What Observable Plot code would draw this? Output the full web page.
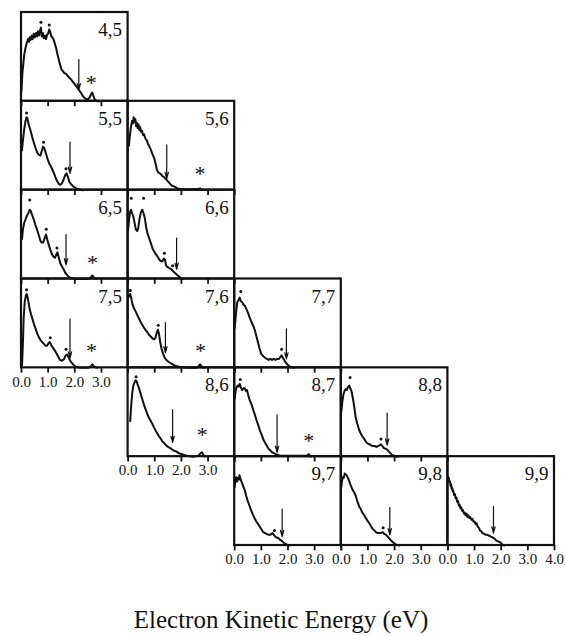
<!DOCTYPE html>
<html>
<head>
<meta charset="utf-8">
<script src="https://cdn.jsdelivr.net/npm/d3@7"></script>
<script src="https://cdn.jsdelivr.net/npm/@observablehq/plot@0.6"></script>
<style>
  html, body { margin: 0; padding: 0; background: #fff; }
  #wrap { position: relative; width: 566px; height: 636px; }
  #title { position: absolute; left: 0; top: 606px; width: 562px; text-align: center;
           font-family: "Liberation Serif", "DejaVu Serif", serif; font-size: 25px; line-height: 28px; color: #111; }
</style>
</head>
<body>
<div id="wrap"><div id="chart"></div><div id="title">Electron Kinetic Energy (eV)</div></div>
<script>
// Panels: label, grid column, grid row
const panelLabels = ["4,5","5,5","5,6","6,5","6,6","7,5","7,6","7,7","8,6","8,7","8,8","9,7","9,8","9,9"];
const panelCols   = [0, 0, 1, 0, 1, 0, 1, 2, 1, 2, 3, 2, 3, 4];
const panelRows   = [0, 1, 1, 2, 2, 3, 3, 3, 4, 4, 4, 5, 5, 5];
const labeledAxisPanels = ["7,5","8,6","9,7","9,8","9,9"];

// Spectra: [kinetic energy (eV), relative intensity]
const spec_4_5 = [[0.00,0.12],[0.03,0.30],[0.06,0.40],[0.10,0.52],[0.15,0.60],[0.20,0.66],[0.25,0.70],[0.28,0.67],[0.31,0.72],[0.34,0.69],[0.38,0.74],[0.42,0.70],[0.46,0.76],[0.50,0.72],[0.54,0.77],[0.58,0.73],[0.62,0.79],[0.66,0.74],[0.70,0.80],[0.73,0.83],[0.76,0.73],[0.80,0.77],[0.84,0.71],[0.88,0.74],[0.92,0.70],[0.96,0.75],[1.00,0.76],[1.04,0.81],[1.08,0.78],[1.12,0.73],[1.16,0.72],[1.20,0.70],[1.25,0.65],[1.30,0.60],[1.35,0.53],[1.40,0.47],[1.45,0.41],[1.50,0.36],[1.55,0.34],[1.60,0.32],[1.67,0.31],[1.75,0.28],[1.82,0.26],[1.90,0.23],[2.00,0.19],[2.10,0.15],[2.20,0.11],[2.30,0.06],[2.40,0.03],[2.48,0.02],[2.55,0.04],[2.61,0.08],[2.65,0.10],[2.70,0.06],[2.75,0.02],[2.85,0.0],[2.95,0.0]];
const spec_5_5 = [[0.02,0.45],[0.05,0.55],[0.10,0.68],[0.15,0.78],[0.19,0.82],[0.22,0.81],[0.27,0.74],[0.33,0.68],[0.40,0.60],[0.46,0.54],[0.52,0.48],[0.58,0.43],[0.64,0.40],[0.71,0.39],[0.76,0.44],[0.81,0.49],[0.86,0.47],[0.92,0.41],[0.98,0.35],[1.04,0.30],[1.10,0.27],[1.16,0.23],[1.22,0.19],[1.28,0.14],[1.34,0.10],[1.40,0.07],[1.46,0.06],[1.52,0.08],[1.58,0.12],[1.64,0.17],[1.69,0.19],[1.74,0.15],[1.80,0.09],[1.88,0.06],[1.95,0.04],[2.05,0.02],[2.15,0.01],[2.30,0.0]];
const spec_5_6 = [[0.03,0.50],[0.07,0.62],[0.11,0.72],[0.15,0.78],[0.18,0.75],[0.21,0.82],[0.24,0.77],[0.27,0.80],[0.30,0.72],[0.33,0.76],[0.36,0.70],[0.39,0.74],[0.42,0.68],[0.45,0.71],[0.48,0.66],[0.52,0.67],[0.56,0.62],[0.60,0.63],[0.65,0.58],[0.70,0.56],[0.75,0.52],[0.80,0.49],[0.86,0.45],[0.92,0.40],[0.98,0.36],[1.03,0.30],[1.08,0.23],[1.13,0.20],[1.18,0.19],[1.23,0.18],[1.28,0.16],[1.34,0.15],[1.40,0.13],[1.46,0.11],[1.52,0.09],[1.58,0.07],[1.65,0.05],[1.74,0.04],[1.85,0.02],[2.00,0.01],[2.20,0.01],[2.50,0.01],[2.62,0.01],[2.70,0.02],[2.78,0.0]];
const spec_6_5 = [[0.02,0.45],[0.05,0.55],[0.10,0.63],[0.15,0.67],[0.20,0.71],[0.27,0.75],[0.31,0.78],[0.34,0.77],[0.40,0.72],[0.46,0.67],[0.52,0.61],[0.58,0.56],[0.64,0.50],[0.71,0.43],[0.76,0.41],[0.81,0.41],[0.87,0.46],[0.92,0.50],[0.97,0.44],[1.02,0.39],[1.08,0.33],[1.14,0.28],[1.20,0.25],[1.26,0.24],[1.31,0.28],[1.35,0.30],[1.40,0.24],[1.45,0.18],[1.52,0.14],[1.58,0.11],[1.64,0.07],[1.70,0.05],[1.78,0.02],[1.88,0.01],[2.00,0.0],[2.30,0.0],[2.50,0.0],[2.58,0.01],[2.66,0.04],[2.73,0.01],[2.80,0.0]];
const spec_6_6 = [[0.00,0.55],[0.04,0.68],[0.08,0.76],[0.11,0.78],[0.15,0.74],[0.20,0.70],[0.25,0.62],[0.29,0.56],[0.34,0.54],[0.38,0.57],[0.43,0.68],[0.48,0.75],[0.53,0.78],[0.58,0.74],[0.63,0.68],[0.68,0.58],[0.73,0.51],[0.80,0.45],[0.86,0.40],[0.92,0.34],[0.98,0.31],[1.04,0.28],[1.11,0.25],[1.17,0.22],[1.23,0.20],[1.29,0.20],[1.34,0.23],[1.38,0.22],[1.43,0.15],[1.50,0.13],[1.56,0.12],[1.62,0.11],[1.68,0.09],[1.75,0.07],[1.82,0.05],[1.90,0.03],[1.98,0.01],[2.05,0.0]];
const spec_7_5 = [[0.02,0.03],[0.05,0.25],[0.08,0.55],[0.12,0.74],[0.17,0.82],[0.20,0.83],[0.24,0.78],[0.30,0.67],[0.36,0.60],[0.42,0.54],[0.48,0.48],[0.54,0.43],[0.60,0.38],[0.66,0.34],[0.72,0.31],[0.78,0.29],[0.84,0.27],[0.90,0.25],[0.96,0.25],[1.02,0.28],[1.06,0.29],[1.11,0.26],[1.17,0.23],[1.24,0.20],[1.30,0.17],[1.37,0.13],[1.44,0.09],[1.52,0.08],[1.60,0.10],[1.66,0.14],[1.71,0.15],[1.76,0.12],[1.83,0.08],[1.90,0.05],[1.97,0.03],[2.05,0.01],[2.20,0.0],[2.50,0.0],[2.58,0.01],[2.66,0.04],[2.73,0.01],[2.85,0.0]];
const spec_7_6 = [[0.00,0.78],[0.04,0.82],[0.08,0.83],[0.12,0.78],[0.16,0.72],[0.22,0.67],[0.29,0.63],[0.35,0.59],[0.42,0.55],[0.48,0.51],[0.54,0.48],[0.60,0.45],[0.67,0.42],[0.73,0.40],[0.79,0.37],[0.86,0.35],[0.92,0.33],[0.98,0.32],[1.03,0.34],[1.08,0.40],[1.12,0.43],[1.16,0.38],[1.20,0.30],[1.25,0.22],[1.31,0.16],[1.38,0.11],[1.46,0.08],[1.56,0.06],[1.67,0.04],[1.80,0.02],[1.95,0.01],[2.20,0.0],[2.55,0.0],[2.63,0.01],[2.70,0.04],[2.77,0.01],[2.85,0.0]];
const spec_7_7 = [[0.00,0.45],[0.03,0.55],[0.07,0.67],[0.10,0.74],[0.14,0.76],[0.19,0.79],[0.23,0.75],[0.28,0.74],[0.33,0.71],[0.38,0.70],[0.44,0.66],[0.51,0.61],[0.57,0.56],[0.64,0.51],[0.70,0.47],[0.76,0.42],[0.82,0.35],[0.87,0.29],[0.93,0.22],[0.99,0.16],[1.07,0.13],[1.15,0.11],[1.21,0.10],[1.27,0.09],[1.33,0.10],[1.40,0.09],[1.46,0.10],[1.53,0.09],[1.60,0.10],[1.66,0.10],[1.71,0.12],[1.76,0.14],[1.80,0.12],[1.85,0.09],[1.91,0.06],[1.97,0.04],[2.04,0.02],[2.10,0.01],[2.23,0.0]];
const spec_8_6 = [[0.08,0.40],[0.11,0.55],[0.15,0.70],[0.19,0.79],[0.23,0.83],[0.28,0.86],[0.32,0.85],[0.36,0.81],[0.41,0.77],[0.47,0.71],[0.53,0.65],[0.60,0.58],[0.66,0.53],[0.72,0.48],[0.78,0.44],[0.85,0.40],[0.91,0.37],[0.97,0.33],[1.04,0.29],[1.10,0.26],[1.16,0.23],[1.23,0.20],[1.29,0.17],[1.36,0.15],[1.42,0.13],[1.50,0.11],[1.61,0.09],[1.70,0.07],[1.80,0.06],[1.90,0.04],[1.99,0.03],[2.10,0.02],[2.20,0.01],[2.43,0.0],[2.64,0.01],[2.72,0.04],[2.77,0.05],[2.82,0.02],[2.88,0.0]];
const spec_8_7 = [[0.00,0.65],[0.03,0.73],[0.07,0.78],[0.11,0.80],[0.15,0.79],[0.19,0.82],[0.23,0.78],[0.28,0.75],[0.33,0.77],[0.38,0.77],[0.42,0.74],[0.46,0.75],[0.51,0.69],[0.57,0.63],[0.64,0.58],[0.70,0.52],[0.76,0.47],[0.82,0.41],[0.89,0.35],[0.95,0.29],[1.02,0.24],[1.08,0.19],[1.15,0.15],[1.21,0.12],[1.27,0.09],[1.34,0.07],[1.40,0.05],[1.47,0.04],[1.53,0.03],[1.62,0.02],[1.72,0.01],[1.91,0.01],[2.30,0.01],[2.60,0.01],[2.70,0.01],[2.78,0.03],[2.85,0.0]];
const spec_8_8 = [[0.00,0.50],[0.04,0.62],[0.08,0.70],[0.12,0.74],[0.16,0.76],[0.20,0.75],[0.23,0.77],[0.27,0.79],[0.30,0.80],[0.34,0.77],[0.38,0.74],[0.42,0.68],[0.45,0.63],[0.50,0.53],[0.54,0.44],[0.60,0.37],[0.67,0.30],[0.73,0.26],[0.79,0.23],[0.86,0.20],[0.92,0.17],[0.98,0.15],[1.05,0.14],[1.11,0.13],[1.17,0.12],[1.25,0.12],[1.32,0.11],[1.38,0.12],[1.44,0.13],[1.49,0.14],[1.54,0.12],[1.59,0.10],[1.65,0.09],[1.72,0.08],[1.78,0.06],[1.84,0.04],[1.91,0.02],[1.99,0.01],[2.12,0.0]];
const spec_9_7 = [[0.00,0.66],[0.03,0.74],[0.06,0.77],[0.09,0.72],[0.12,0.76],[0.15,0.74],[0.18,0.79],[0.21,0.76],[0.24,0.73],[0.28,0.70],[0.33,0.66],[0.38,0.62],[0.43,0.56],[0.49,0.50],[0.55,0.45],[0.61,0.40],[0.68,0.35],[0.74,0.31],[0.81,0.27],[0.88,0.24],[0.94,0.21],[1.01,0.18],[1.07,0.15],[1.14,0.14],[1.20,0.13],[1.27,0.12],[1.33,0.12],[1.38,0.13],[1.42,0.14],[1.47,0.12],[1.52,0.10],[1.58,0.09],[1.65,0.08],[1.72,0.06],[1.78,0.05],[1.84,0.03],[1.90,0.02],[1.97,0.01],[2.05,0.0]];
const spec_9_8 = [[0.00,0.66],[0.03,0.73],[0.06,0.77],[0.09,0.76],[0.13,0.81],[0.17,0.80],[0.20,0.79],[0.25,0.76],[0.29,0.73],[0.35,0.68],[0.42,0.63],[0.48,0.60],[0.54,0.56],[0.60,0.50],[0.67,0.44],[0.73,0.41],[0.79,0.37],[0.86,0.34],[0.92,0.31],[0.98,0.28],[1.05,0.25],[1.11,0.22],[1.17,0.19],[1.24,0.17],[1.30,0.15],[1.36,0.14],[1.42,0.14],[1.48,0.14],[1.55,0.15],[1.61,0.13],[1.68,0.12],[1.74,0.10],[1.80,0.08],[1.86,0.06],[1.93,0.04],[2.00,0.02],[2.06,0.01],[2.18,0.0]];
const spec_9_9 = [[0.00,0.78],[0.02,0.74],[0.04,0.76],[0.06,0.71],[0.08,0.72],[0.10,0.67],[0.12,0.69],[0.14,0.64],[0.16,0.65],[0.18,0.61],[0.20,0.62],[0.23,0.57],[0.26,0.58],[0.29,0.53],[0.32,0.54],[0.35,0.49],[0.38,0.50],[0.41,0.45],[0.44,0.46],[0.47,0.42],[0.50,0.43],[0.53,0.39],[0.56,0.40],[0.60,0.36],[0.63,0.37],[0.66,0.34],[0.70,0.36],[0.73,0.32],[0.77,0.34],[0.80,0.31],[0.84,0.32],[0.88,0.29],[0.92,0.30],[0.96,0.27],[1.00,0.27],[1.04,0.24],[1.08,0.25],[1.12,0.21],[1.16,0.20],[1.20,0.17],[1.25,0.16],[1.30,0.14],[1.36,0.13],[1.42,0.12],[1.48,0.12],[1.55,0.11],[1.61,0.10],[1.68,0.09],[1.74,0.08],[1.80,0.06],[1.86,0.05],[1.93,0.04],[1.99,0.03],[2.05,0.01],[2.11,0.0]];
const spectra = [spec_4_5, spec_5_5, spec_5_6, spec_6_5, spec_6_6, spec_7_5, spec_7_6, spec_7_7, spec_8_6, spec_8_7, spec_8_8, spec_9_7, spec_9_8, spec_9_9];

// Arrows: energy, top and tip intensity
const arrowE    = [2.15, 1.82, 1.45, 1.67, 1.82, 1.82, 1.40, 1.94, 1.67, 1.59, 1.72, 1.78, 1.82, 1.71];
const arrowTop  = [0.47, 0.54, 0.51, 0.50, 0.46, 0.55, 0.51, 0.44, 0.53, 0.47, 0.49, 0.41, 0.43, 0.44];
const arrowTip  = [0.13, 0.19, 0.13, 0.16, 0.11, 0.11, 0.17, 0.10, 0.16, 0.05, 0.13, 0.10, 0.12, 0.14];

// Asterisks (energy, height); null = none
const starE = [2.62, null, 2.70, 2.66, null, 2.63, 2.72, null, 2.78, 2.78, null, null, null, null];
const starI = [0.20, null, 0.17, 0.17, null, 0.18, 0.18, null, 0.23, 0.17, null, null, null, null];

// Peak marker dots per panel
const peakDots = [
  [[0.73,0.89],[1.04,0.86]],
  [[0.19,0.87],[0.83,0.54],[1.67,0.24]],
  [],
  [[0.31,0.89],[0.93,0.56],[1.33,0.35]],
  [[0.12,0.91],[0.58,0.91],[1.36,0.29],[1.67,0.15]],
  [[0.19,0.88],[1.08,0.34],[1.67,0.21]],
  [[0.08,0.87],[1.13,0.48]],
  [[0.23,0.86],[1.76,0.21]],
  [[0.30,0.90]],
  [[0.21,0.87]],
  [[0.33,0.89],[1.49,0.20]],
  [[1.49,0.17]],
  [[1.57,0.20]],
  []
];

const tickValues = [0, 1, 2, 3, 4];
const tickLabels = ["0.0", "1.0", "2.0", "3.0", "4.0"];

// ---- build tables ----
const panels = panelLabels.map((label, i) => ({label, col: panelCols[i], row: panelRows[i]}));
const X = (p, e) => p.col * 4 + e;
const Y = (p, v) => (5 - p.row) + v;

const lineData = panels.flatMap((p, i) => spectra[i].map(([e, v]) => ({panel: p.label, x: X(p, e), y: Y(p, v)})));
const frameData = panels.map(p => ({x1: X(p, 0), x2: X(p, 4), y1: Y(p, 0), y2: Y(p, 1), label: p.label}));
const arrowData = panels.map((p, i) => ({x: X(p, arrowE[i]), y1: Y(p, arrowTop[i]), y2: Y(p, arrowTip[i])}));
const starData = panels.flatMap((p, i) => starE[i] == null ? [] : [{x: X(p, starE[i]), y: Y(p, starI[i])}]);
const dotData = panels.flatMap((p, i) => peakDots[i].map(([e, v]) => ({x: X(p, e), y: Y(p, v)})));
const tickData = panels.flatMap(p => tickValues.map(t => ({x: X(p, t), y1: Y(p, 0), y2: Y(p, -0.06)})));
const tickLabelData = panels.filter(p => labeledAxisPanels.includes(p.label)).flatMap(p =>
  tickValues.map((t, j) => ({x: X(p, t), y: Y(p, 0), text: tickLabels[j], show: (t < 4 || p.label === "9,9")})).filter(d => d.show));

const serif = '"Liberation Serif", "DejaVu Serif", serif';

const chart = Plot.plot({
  width: 566,
  height: 580,
  marginLeft: 21,
  marginRight: 12,
  marginTop: 12,
  marginBottom: 35,
  x: {domain: [0, 20], axis: null},
  y: {domain: [0, 6], axis: null},
  style: {fontFamily: serif, background: "white", color: "#111"},
  marks: [
    Plot.line(lineData, {x: "x", y: "y", z: "panel", stroke: "#111", strokeWidth: 2, strokeLinejoin: "round"}),
    Plot.arrow(arrowData, {x1: "x", x2: "x", y1: "y1", y2: "y2", stroke: "#111", strokeWidth: 1.2, headLength: 8, headAngle: 30}),
    Plot.dot(dotData, {x: "x", y: "y", r: 1.5, fill: "#111", stroke: null}),
    Plot.text(starData, {x: "x", y: "y", text: () => "*", fontSize: 22, dy: -1, fill: "#111"}),
    Plot.rect(frameData, {x1: "x1", x2: "x2", y1: "y1", y2: "y2", fill: "none", stroke: "#111", strokeWidth: 2.2}),
    Plot.ruleX(tickData, {x: "x", y1: "y1", y2: "y2", stroke: "#111", strokeWidth: 1.8}),
    Plot.text(panels, {x: p => X(p, 4), y: p => Y(p, 1), text: "label", textAnchor: "end", lineAnchor: "top", dx: -6, dy: 10, fontSize: 19, fill: "#111"}),
    Plot.text(tickLabelData, {x: "x", y: "y", text: "text", lineAnchor: "middle", dy: 14, fontSize: 15, fill: "#111"})
  ]
});
document.getElementById("chart").appendChild(chart);
</script>
</body>
</html>
